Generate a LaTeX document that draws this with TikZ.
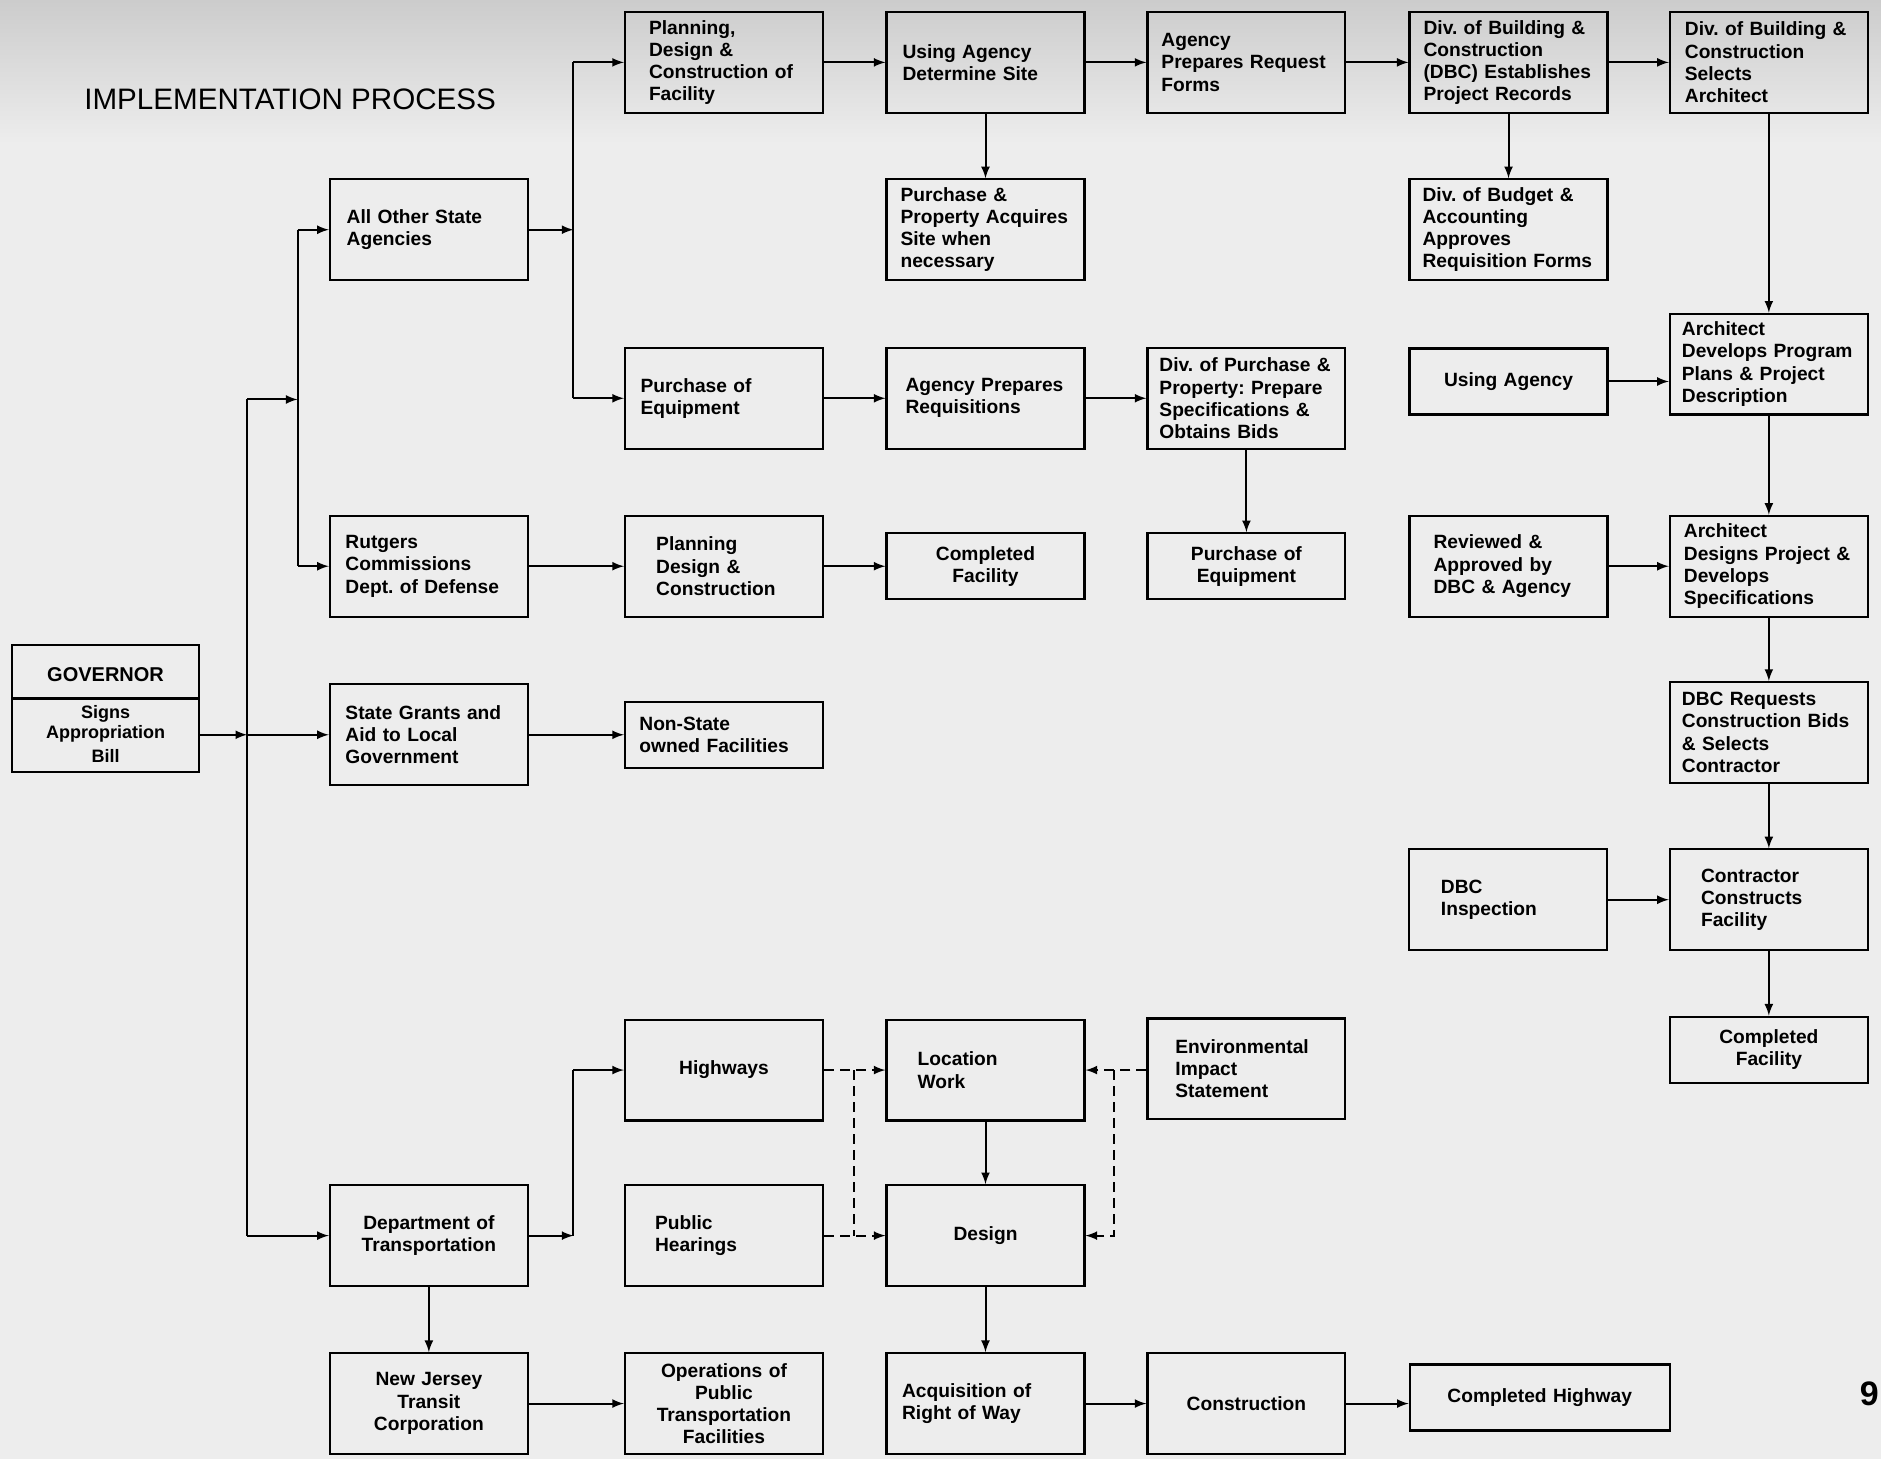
\documentclass[tikz,border=0pt]{standalone}
\usepackage{fontspec}
\setmainfont{Liberation Sans}
\usetikzlibrary{shapes.multipart, positioning}

\newcommand{\boxfont}{\fontsize{9.6}{11.1}\selectfont\bfseries\frenchspacing}

\tikzset{
    box/.style={draw, line width=1.1pt, minimum height=50.4pt, inner ysep=1pt,
        inner xsep=#1, text width=99pt-2*#1, align=left, font=\boxfont},
    box/.default=7pt,
    cbox/.style={box=4pt, align=center},
    short/.style={minimum height=33pt},
    govbox/.style={draw, line width=1.1pt, rectangle split, rectangle split parts=2,
        inner xsep=2pt, inner ysep=0pt, text width=89.6pt, align=center},
    link/.style={line width=1pt},
    arr/.style={link, -latex},
    opt/.style={link, dash pattern=on 5pt off 3pt},
    optarr/.style={opt, -latex}
}

\begin{document}
\begin{tikzpicture}[x=0.6pt, y=-0.6pt]
        \useasboundingbox (0,0) rectangle (1568,1216);
        \fill[black!7] (0,0) rectangle (1568,1216);
        \shade[top color=black!20, bottom color=black!7] (0,0) rectangle (1568,120);

        \node[anchor=west, inner sep=0pt, font=\fontsize{14.8}{17}\selectfont] (title) at (70,83) {IMPLEMENTATION PROCESS};
        \node[anchor=west, inner sep=0pt, font=\fontsize{17}{20}\selectfont\bfseries] (page) at (1550,1162) {9};

        % governor
        \node[govbox] (gov) at (88,590.5) {\fontsize{10}{11}\selectfont\bfseries\rule[-8pt]{0pt}{25.8pt}GOVERNOR
            \nodepart{two}\fontsize{9}{10}\selectfont\bfseries\rule{0pt}{9.6pt}Signs\\Appropriation\\Bill\rule[-4pt]{0pt}{0pt}};

        % first column
        \node[box=8.4pt] (other) at (357.5,191.5) {All Other State\\Agencies};
        \node[box=7.8pt] (rutgers) at (357.5,472) {Rutgers\\Commissions\\Dept. of Defense};
        \node[box=7.8pt] (grants) at (357.5,612.5) {State Grants and\\Aid to Local\\Government};
        \node[cbox] (dot) at (357.5,1030) {Department of\\Transportation};
        \node[cbox] (njt) at (357.5,1170) {New Jersey\\Transit\\Corporation};

        % buildings
        \node[box=12pt] (plan) at (603.5,52) {Planning,\\Design \&\\Construction of\\Facility};
        \node[box=8pt] (site) at (821.5,52) {Using Agency\\Determine Site};
        \node[box=7pt] (forms) at (1039,52) {Agency\\Prepares Request\\Forms};
        \node[box=7pt] (dbcrec) at (1257.5,52) {Div. of Building \&\\Construction\\(DBC) Establishes\\Project Records};
        \node[box=7.5pt] (arch) at (1474.5,52) {Div. of Building \&\\Construction\\Selects\\Architect};
        \node[box=7pt] (acq) at (821.5,191.5) {Purchase \&\\Property Acquires\\Site when\\necessary};
        \node[box=6.5pt] (budget) at (1257.5,191.5) {Div. of Budget \&\\Accounting\\Approves\\Requisition Forms};
        \node[cbox, short] (using) at (1257.5,318) {Using Agency};
        \node[box=6pt] (program) at (1474.5,303.5) {Architect\\Develops Program\\Plans \& Project\\Description};
        \node[box=12pt] (reviewed) at (1257.5,472) {Reviewed \&\\Approved by\\DBC \& Agency};
        \node[box=7pt] (designs) at (1474.5,472) {Architect\\Designs Project \&\\Develops\\Specifications};
        \node[box=6pt] (dbcbids) at (1474.5,610.5) {DBC Requests\\Construction Bids\\\& Selects\\Contractor};
        \node[box=16pt] (inspect) at (1257,750) {DBC\\Inspection};
        \node[box=15.6pt] (contractor) at (1474.5,750) {Contractor\\Constructs\\Facility};
        \node[cbox, short] (facility) at (1474.5,875) {Completed\\Facility};

        % equipment
        \node[box=7.8pt] (equip) at (603.5,332) {Purchase of\\Equipment};
        \node[box=9.5pt] (reqs) at (821.5,332) {Agency Prepares\\Requisitions};
        \node[box=6pt] (bids) at (1039,332) {Div. of Purchase \&\\Property: Prepare\\Specifications \&\\Obtains Bids};
        \node[cbox, short] (equip2) at (1039,472) {Purchase of\\Equipment};

        \node[box=15.6pt] (pdc) at (603.5,472) {Planning\\Design \&\\Construction};
        \node[cbox, short] (done) at (821.5,472) {Completed\\Facility};
        \node[box=7.2pt, short] (nonstate) at (603.5,612.5) {Non-State\\owned Facilities};

        % highways
        \node[cbox] (highways) at (603.5,892) {Highways};
        \node[box=15.6pt] (location) at (821.5,892) {Location\\Work};
        \node[box=14pt] (envimp) at (1039,891) {Environmental\\Impact\\Statement};
        \node[box=15pt] (hearings) at (603.5,1030) {Public\\Hearings};
        \node[cbox] (design) at (821.5,1030) {Design};
        \node[cbox] (ops) at (603.5,1170) {Operations of\\Public\\Transportation\\Facilities};
        \node[box=7.8pt] (way) at (821.5,1170) {Acquisition of\\Right of Way};
        \node[cbox] (constr) at (1039,1170) {Construction};
        \node[cbox, short, text width=122pt] (highway) at (1283.5,1165) {Completed Highway};

        \coordinate (j1) at (206,333);
        \coordinate (k) at (248,333);
        \coordinate (m) at (478,192);
        \coordinate (p) at (712,892);
        \coordinate (q) at (929,892);

        \draw[link] (j1) -- (j1 |- dot);
        \draw[arr] (gov.east |- grants) -- (j1 |- grants);
        \draw[arr] (j1 |- grants) -- (grants);
        \draw[arr] (j1) -- (k);
        \draw[link] (k |- other) -- (k |- rutgers);
        \draw[arr] (k |- other) -- (other);
        \draw[arr] (k |- rutgers) -- (rutgers);
        \draw[arr] (j1 |- dot) -- (dot);

        \draw[arr] (other) -- (m |- other);
        \draw[link] (m |- plan) -- (m |- equip);
        \draw[arr] (m |- plan) -- (plan);
        \draw[arr] (m |- equip) -- (equip);

        \draw[arr] (plan) -- (site);
        \draw[arr] (site) -- (forms);
        \draw[arr] (forms) -- (dbcrec);
        \draw[arr] (dbcrec) -- (arch);
        \draw[arr] (site) -- (acq);
        \draw[arr] (dbcrec) -- (budget);
        \draw[arr] (arch) -- (program);
        \draw[arr] (using) -- (using -| program.west);
        \draw[arr] (program) -- (designs);
        \draw[arr] (reviewed) -- (designs);
        \draw[arr] (designs) -- (dbcbids);
        \draw[arr] (dbcbids) -- (contractor);
        \draw[arr] (inspect) -- (contractor);
        \draw[arr] (contractor) -- (facility);

        \draw[arr] (equip) -- (reqs);
        \draw[arr] (reqs) -- (bids);
        \draw[arr] (bids) -- (equip2);
        \draw[arr] (rutgers) -- (pdc);
        \draw[arr] (pdc) -- (done);
        \draw[arr] (grants) -- (nonstate);

        \draw[arr] (dot) -- (m |- dot);
        \draw[link] (m |- dot) -- (m |- highways);
        \draw[arr] (m |- highways) -- (highways);
        \draw[arr] (dot) -- (njt);
        \draw[arr] (njt) -- (ops);

        %\draw[arr] (highways) -- (location);
        \draw[optarr] (highways) -- (location);
        \draw[opt] (p) -- (p |- hearings);
        \draw[optarr] (hearings) -- (design);
        \draw[optarr] (envimp.west |- location) -- (location);
        \draw[optarr] (q) -- (q |- design) -- (design);
        \draw[arr] (location) -- (design);
        \draw[arr] (design) -- (way);
        \draw[arr] (way) -- (constr);
        \draw[arr] (constr) -- (constr -| highway.west);
    \end{tikzpicture}
\end{document}
